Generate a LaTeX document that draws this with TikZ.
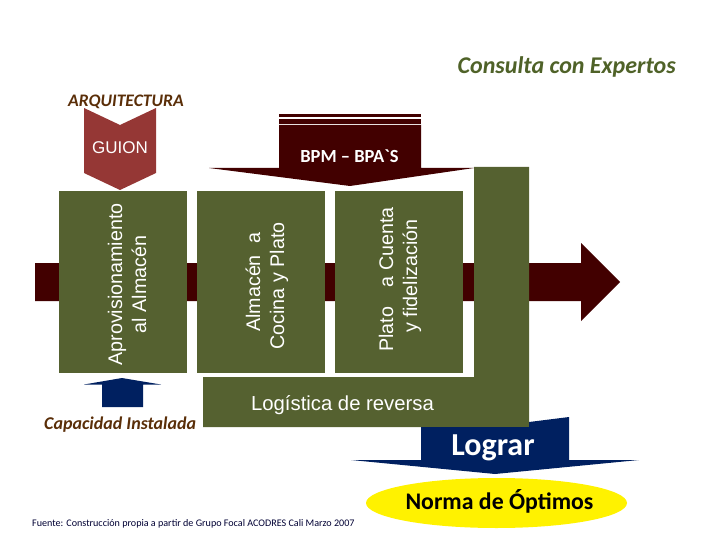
\documentclass[tikz,border=0pt]{standalone}
\usepackage{fontspec}
\setmainfont{Carlito}
\newfontfamily\arialfont{Liberation Sans}
\usetikzlibrary{calc,shapes.geometric}
\definecolor{oliveBox}{HTML}{556130}
\definecolor{maroonArrow}{HTML}{420000}
\definecolor{guionRed}{HTML}{953735}
\definecolor{navyArrow}{HTML}{002060}
\definecolor{brownText}{HTML}{5A2E08}
\definecolor{oliveText}{HTML}{4F6228}
\tikzset{
  stageText/.style={text=white,align=center,rotate=90,font=\arialfont\fontsize{19.7}{24}\selectfont},
  boxFill/.style={fill=oliveBox,draw=none},
  captionText/.style={font=\bfseries\itshape\fontsize{18}{20}\selectfont,text=brownText,inner sep=0pt}
}

\begin{document}
\begin{tikzpicture}[x=1pt,y=-1pt]
  \useasboundingbox (0,0) rectangle (720,540);

  %% Main arrow behind the boxes
  \fill[maroonArrow] (35,263) -- (581,263) -- (581,243) -- (620,282)
    -- (581,321) -- (581,301) -- (35,301) -- cycle;

  %% Building the three stage boxes
  \foreach \x/\w in {59/187,197/325,335/463}
  {
    \fill[boxFill] (\x,191) rectangle (\w,373);
  }
  \node[stageText] (APROV) at (127,284.5) {Aprovisionamiento\\al Almacén};
  \node[stageText] (COCINA) at (267,286) {\hspace*{8pt}Almacén\hspace{0.6em}a\\Cocina y Plato};
  \node[stageText] (PLATO) at (400,279.5) {Plato\hspace{1em}a Cuenta\\\hspace*{7pt}y fidelización};

  %% Return path
  \fill[boxFill] (474,167) -- (529,167) -- (529,427) -- (203,427) -- (203,377)
    -- (474,377) -- cycle;
  \node[text=white,font=\arialfont\fontsize{20.3}{24}\selectfont,inner sep=0pt] (REVERSA) at (342.5,405) {Logística de reversa};

  %% Top arrows
  \fill[guionRed] (84,108) -- (120,125) -- (156,108) -- (156,173) -- (120,190)
    -- (84,173) -- cycle;
  \node[text=white,font=\arialfont\fontsize{17}{20}\selectfont,inner sep=0pt] (GUION) at (120,147.5) {GUION};

  \fill[maroonArrow] (279,114) rectangle (421,116.7);
  \fill[maroonArrow] (279,119) rectangle (421,123.7);
  \fill[maroonArrow] (279,125) -- (421,125) -- (421,168) -- (474,168) -- (350,186)
    -- (209,168) -- (279,168) -- cycle;
  \node[text=white,font=\bfseries\fontsize{18.5}{20}\selectfont,inner sep=0pt] (BPM) at (349.5,156) {BPM -- BPA\textasciigrave S};

  %% Bottom arrows
  \fill[navyArrow] (102,407) -- (102,384.5) -- (84,384.5) -- (122,378) -- (161,384.5)
    -- (143,384.5) -- (143,407) -- cycle;
  \fill[navyArrow] (421,427) -- (529,427) -- (529,422) -- (569,417) -- (569,460)
    -- (639,460) -- (495,474) -- (351,460) -- (421,460) -- cycle;
  \node[text=white,font=\bfseries\fontsize{32}{34}\selectfont,inner sep=0pt] (LOGRAR) at (493,448) {Lograr};

  \node[ellipse,fill=yellow,minimum width=261pt,minimum height=50pt,inner sep=0pt] (OPTIMOS) at (496.5,503) {};
  \node[font=\bfseries\fontsize{23.8}{26}\selectfont,inner sep=0pt] (NORMA) at (499.5,501) {Norma de Óptimos};

  %% Captions
  \node[captionText,text=oliveText,font=\bfseries\itshape\fontsize{24}{26}\selectfont,anchor=east] (EXPERTOS) at (676,67) {Consulta con Expertos};
  \node[captionText,anchor=west,font=\bfseries\itshape\fontsize{17.6}{20}\selectfont] (ARQ) at (68,102) {ARQUITECTURA};
  \node[captionText,anchor=west] (CAPACIDAD) at (44,425) {Capacidad Instalada};
  \node[font=\fontsize{10.1}{12}\selectfont,inner sep=0pt,anchor=west,text=black!80!blue] (FUENTE) at (32,524) {Fuente:  Construcción propia a partir de Grupo Focal ACODRES Cali Marzo 2007};
\end{tikzpicture}
\end{document}
